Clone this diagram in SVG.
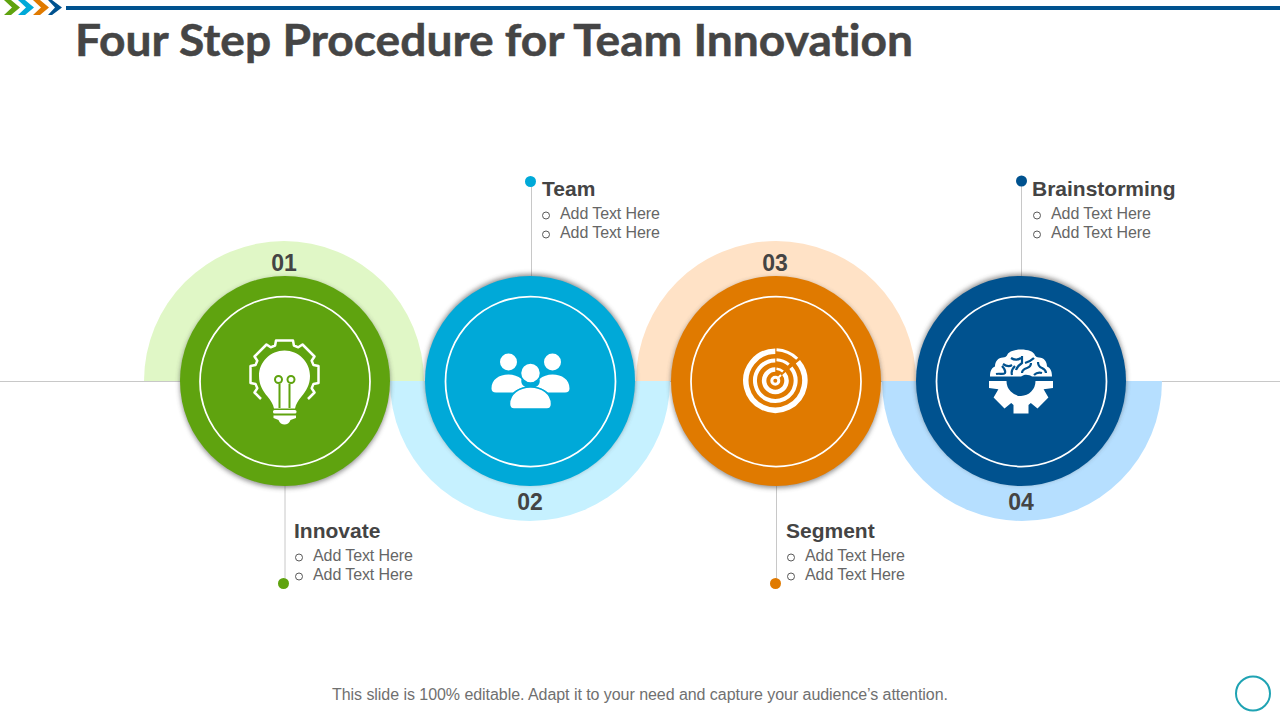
<svg xmlns="http://www.w3.org/2000/svg" width="1280" height="720" viewBox="0 0 1280 720">
<defs>
<filter id="sh" x="-15%" y="-15%" width="130%" height="130%"><feGaussianBlur stdDeviation="2.5"/></filter>
</defs>
<style>
text{font-family:"Liberation Sans",Arial,sans-serif}
.title{font-family:"Lato","Liberation Sans",sans-serif;font-size:44px;font-weight:700;fill:#454545;stroke:#454545;stroke-width:.5;font-variant-ligatures:none}
.head{font-size:21px;font-weight:700;fill:#444}
.item{font-size:16px;fill:#666}
.num{font-size:23px;font-weight:700;fill:#444;text-anchor:middle}
.foot{font-size:16px;fill:#707070}
.bul{fill:none;stroke:#595959;stroke-width:1}
.lead{stroke:#c8c8c8;stroke-width:1;fill:none}
.ring{fill:none;stroke:#fff;stroke-width:1.750}
.ic{fill:#fff}
</style>
<rect width="1280" height="720" fill="#fff"/>
<g id="header">
<path d="M4 0h7l9 7.500-9 7.500H4l8-7.500z" fill="#5fa30f"/>
<path d="M18 0h7l9 7.500-9 7.500h-7l8-7.500z" fill="#00a9d8"/>
<path d="M33 0h7l9 7.500-9 7.500h-7l8-7.500z" fill="#e07a00"/>
<path d="M48 0h4l10 7.500-10 7.500h-4l7-7.500z" fill="#00528f"/>
<rect x="66" y="6" width="1214" height="4" fill="#00528f"/>
<text class="title" x="75" y="56" textLength="838" lengthAdjust="spacingAndGlyphs">Four Step Procedure for Team Innovation</text>
</g>
<g id="connectors">
<path class="lead" d="M0 381.500H1280"/>
<path class="lead" d="M285 486V583M531.500 182V276M776.500 486V583M1021.500 182V276"/>
</g>
<g id="halos">
<path d="M144 381a140 140 0 0 1 280 0z" fill="#e0f7c6"/>
<path d="M390 381a140 140 0 0 0 280 0z" fill="#c6f1ff"/>
<path d="M636 381a140 140 0 0 1 280 0z" fill="#ffe2c6"/>
<path d="M882 381a140 140 0 0 0 280 0z" fill="#b6dfff"/>
</g>
<g id="node1">
<circle cx="285" cy="383" r="105" fill="#444" opacity=".6" filter="url(#sh)"/>
<circle cx="285" cy="381" r="105" fill="#5fa30f"/>
<circle class="ring" cx="285" cy="381.500" r="85"/>
<g id="icon-bulb">
<path fill="none" stroke="#fff" stroke-width="2.500" stroke-linejoin="round" d="M261 399L254.500 392.500L257.300 388.300L255.500 383.900L250.500 383V366L255.500 365.100L257.300 360.700L254.500 356.500L266.500 344.500L270.700 347.300L275.100 345.500L276 340.500H293L293.900 345.500L298.300 347.300L302.500 344.500L314.500 356.500L311.700 360.700L313.500 365.100L318.500 366V383L313.500 383.900L311.700 388.300L314.500 392.500L308 399"/>
<path class="ic" d="M284.500 350.500c-14 0-25.500 11.300-25.500 25.500 0 9 4 15 8.500 20.500 3.500 4.300 5.500 7.500 6.500 12h21c1-4.500 3-7.700 6.500-12 4.500-5.500 8.500-11.500 8.500-20.500 0-14.200-11.500-25.500-25.500-25.500z"/>
<path fill="none" stroke="#5fa30f" stroke-width="2" d="M279.500 408V384M289.500 408V384"/>
<circle cx="278.500" cy="379.500" r="3.500" fill="none" stroke="#5fa30f" stroke-width="2"/>
<circle cx="291" cy="379.500" r="3.500" fill="none" stroke="#5fa30f" stroke-width="2"/>
<rect class="ic" x="273" y="410" width="23.500" height="3.500" rx="1.500"/>
<path class="ic" d="M273.500 415.500h22.500v2.500l-5.500 2c-1 3-3.500 4.500-6 4.500s-5-1.500-6-4.500l-5-2z"/>
</g>
</g>
<g id="node2">
<circle cx="530" cy="379" r="105" fill="#444" opacity=".6" filter="url(#sh)"/>
<circle cx="530" cy="381" r="105" fill="#00a9d8"/>
<circle class="ring" cx="530.500" cy="381.500" r="85"/>
<g id="icon-team">
<circle class="ic" cx="508.500" cy="362" r="8.500"/>
<circle class="ic" cx="552.500" cy="362" r="8.500"/>
<path class="ic" d="M491.500 388.500c0-9 7.500-14 17-14 5 0 9.500 1.500 13 4.500-1 4 1 7 4 8-5 1-9 2.500-12.500 5.500h-17c-3 0-4.500-1.500-4.500-4z"/>
<path class="ic" d="M569.500 388.500c0-9-7.500-14-17-14-5 0-9.500 1.500-13 4.500 1 4-1 7-4 8 5 1 9 2.500 12.500 5.500h17c3 0 4.500-1.500 4.500-4z"/>
<circle class="ic" cx="530.500" cy="373" r="10" stroke="#00a9d8" stroke-width="1.500"/>
<path class="ic" stroke="#00a9d8" stroke-width="1.500" d="M509.500 404c0-10 9.500-17 21-17s21 7 21 17c0 3-1.500 5-4.500 5h-33c-3 0-4.500-2-4.500-5z"/>
</g>
</g>
<g id="node3">
<circle cx="776" cy="383" r="105" fill="#444" opacity=".6" filter="url(#sh)"/>
<circle cx="776" cy="381" r="105" fill="#e07a00"/>
<circle class="ring" cx="776" cy="381.500" r="85"/>
<g id="icon-target" fill="none" stroke="#fff">
<path stroke-width="5.500" d="M775.300 351.200A29.500 29.500 0 1 0 797.900 361.700"/>
<path stroke-width="4" d="M775.300 360.400A20.300 20.300 0 1 0 790.900 367.700"/>
<path stroke-width="4.500" d="M775.300 369.500A11.200 11.200 0 1 0 783.900 373.500"/>
<circle cx="775.300" cy="380.700" r="3.500" stroke-width="3"/>
<path stroke-width="3" d="M776.500 349.700A31 31 0 0 1 797.200 358.800"/>
<path stroke-width="3" d="M776.500 359.700A21 21 0 0 1 788.800 364.600"/>
<path stroke-width="2.500" d="M776.500 368.700A12 12 0 0 1 783 371.500"/>
<path stroke-width="2" d="M777.500 378.500L781 375"/>
</g>
</g>
<g id="node4">
<circle cx="1021" cy="379" r="105" fill="#444" opacity=".6" filter="url(#sh)"/>
<circle cx="1021" cy="381" r="105" fill="#00528f"/>
<circle class="ring" cx="1021.500" cy="381.500" r="85"/>
<g id="icon-brain">
<path class="ic" d="M990 376.500c0-6 2-9 5-10 0-5 3-9 8-9 2 0 3-1 4-2 1-4 7-6 14-6s13 2 14 6c1 1 2 2 4 2 5 0 8 4 8 9 3 1 5 4 5 10h-20c-2-1-4-2-8-1.500l-3 1.500z"/>
<path fill="none" stroke="#00528f" stroke-width="2.200" d="M996 374c4-1 7 1 9-1 1-3-1-5-3-7M1003 364c3 2 6 3 9 1M1012 375c-1-3 0-6 3-9M1011 358c3 2 7 2 10 0M1022 356v7c-3 2-5 4-6 7M1034 358c-3 3-6 4-9 5M1022 373c0-3 2-4 5-5 3-1 4-3 4-5M1034 375c2-2 5-3 8-2M1038 362c0 3 1 5 4 6 2 1 4 3 4 5"/>
<path class="ic" fill-rule="evenodd" d="M989 381H1053V388L1043.600 389.200L1048.400 397.500L1037.500 408.400L1030.800 403L1028.500 405V413.500H1013.500V405L1011.200 403L1004.500 408.400L993.600 397.500L998.400 389.200L989 388zM1006.500 381a14.500 15 0 0 0 29 0z"/>
</g>
</g>
<g id="label-innovate">
<circle cx="283.500" cy="583.500" r="5.500" fill="#5fa30f"/>
<text class="head" x="294" y="538">Innovate</text>
<circle class="bul" cx="299" cy="557.500" r="3.500"/><text class="item" x="313" y="561" textLength="100">Add Text Here</text>
<circle class="bul" cx="299" cy="576.500" r="3.500"/><text class="item" x="313" y="580" textLength="100">Add Text Here</text>
</g>
<g id="label-team">
<circle cx="530.500" cy="181.500" r="5.500" fill="#00a9d8"/>
<text class="head" x="542" y="196">Team</text>
<circle class="bul" cx="546" cy="215.500" r="3.500"/><text class="item" x="560" y="219" textLength="100">Add Text Here</text>
<circle class="bul" cx="546" cy="234.500" r="3.500"/><text class="item" x="560" y="238" textLength="100">Add Text Here</text>
</g>
<g id="label-segment">
<circle cx="775.500" cy="583.500" r="5.500" fill="#e07a00"/>
<text class="head" x="786" y="538">Segment</text>
<circle class="bul" cx="791" cy="557.500" r="3.500"/><text class="item" x="805" y="561" textLength="100">Add Text Here</text>
<circle class="bul" cx="791" cy="576.500" r="3.500"/><text class="item" x="805" y="580" textLength="100">Add Text Here</text>
</g>
<g id="label-brainstorming">
<circle cx="1021.500" cy="181" r="5.500" fill="#00528f"/>
<text class="head" x="1032" y="196">Brainstorming</text>
<circle class="bul" cx="1037" cy="215.500" r="3.500"/><text class="item" x="1051" y="219" textLength="100">Add Text Here</text>
<circle class="bul" cx="1037" cy="234.500" r="3.500"/><text class="item" x="1051" y="238" textLength="100">Add Text Here</text>
</g>
<text class="num" x="284" y="271">01</text>
<text class="num" x="530" y="510">02</text>
<text class="num" x="775" y="271">03</text>
<text class="num" x="1021" y="510">04</text>
<text class="foot" x="332" y="700" textLength="616">This slide is 100% editable. Adapt it to your need and capture your audience’s attention.</text>
<circle cx="1253" cy="693.500" r="17" fill="none" stroke="#1fa3b3" stroke-width="2"/>
</svg>
